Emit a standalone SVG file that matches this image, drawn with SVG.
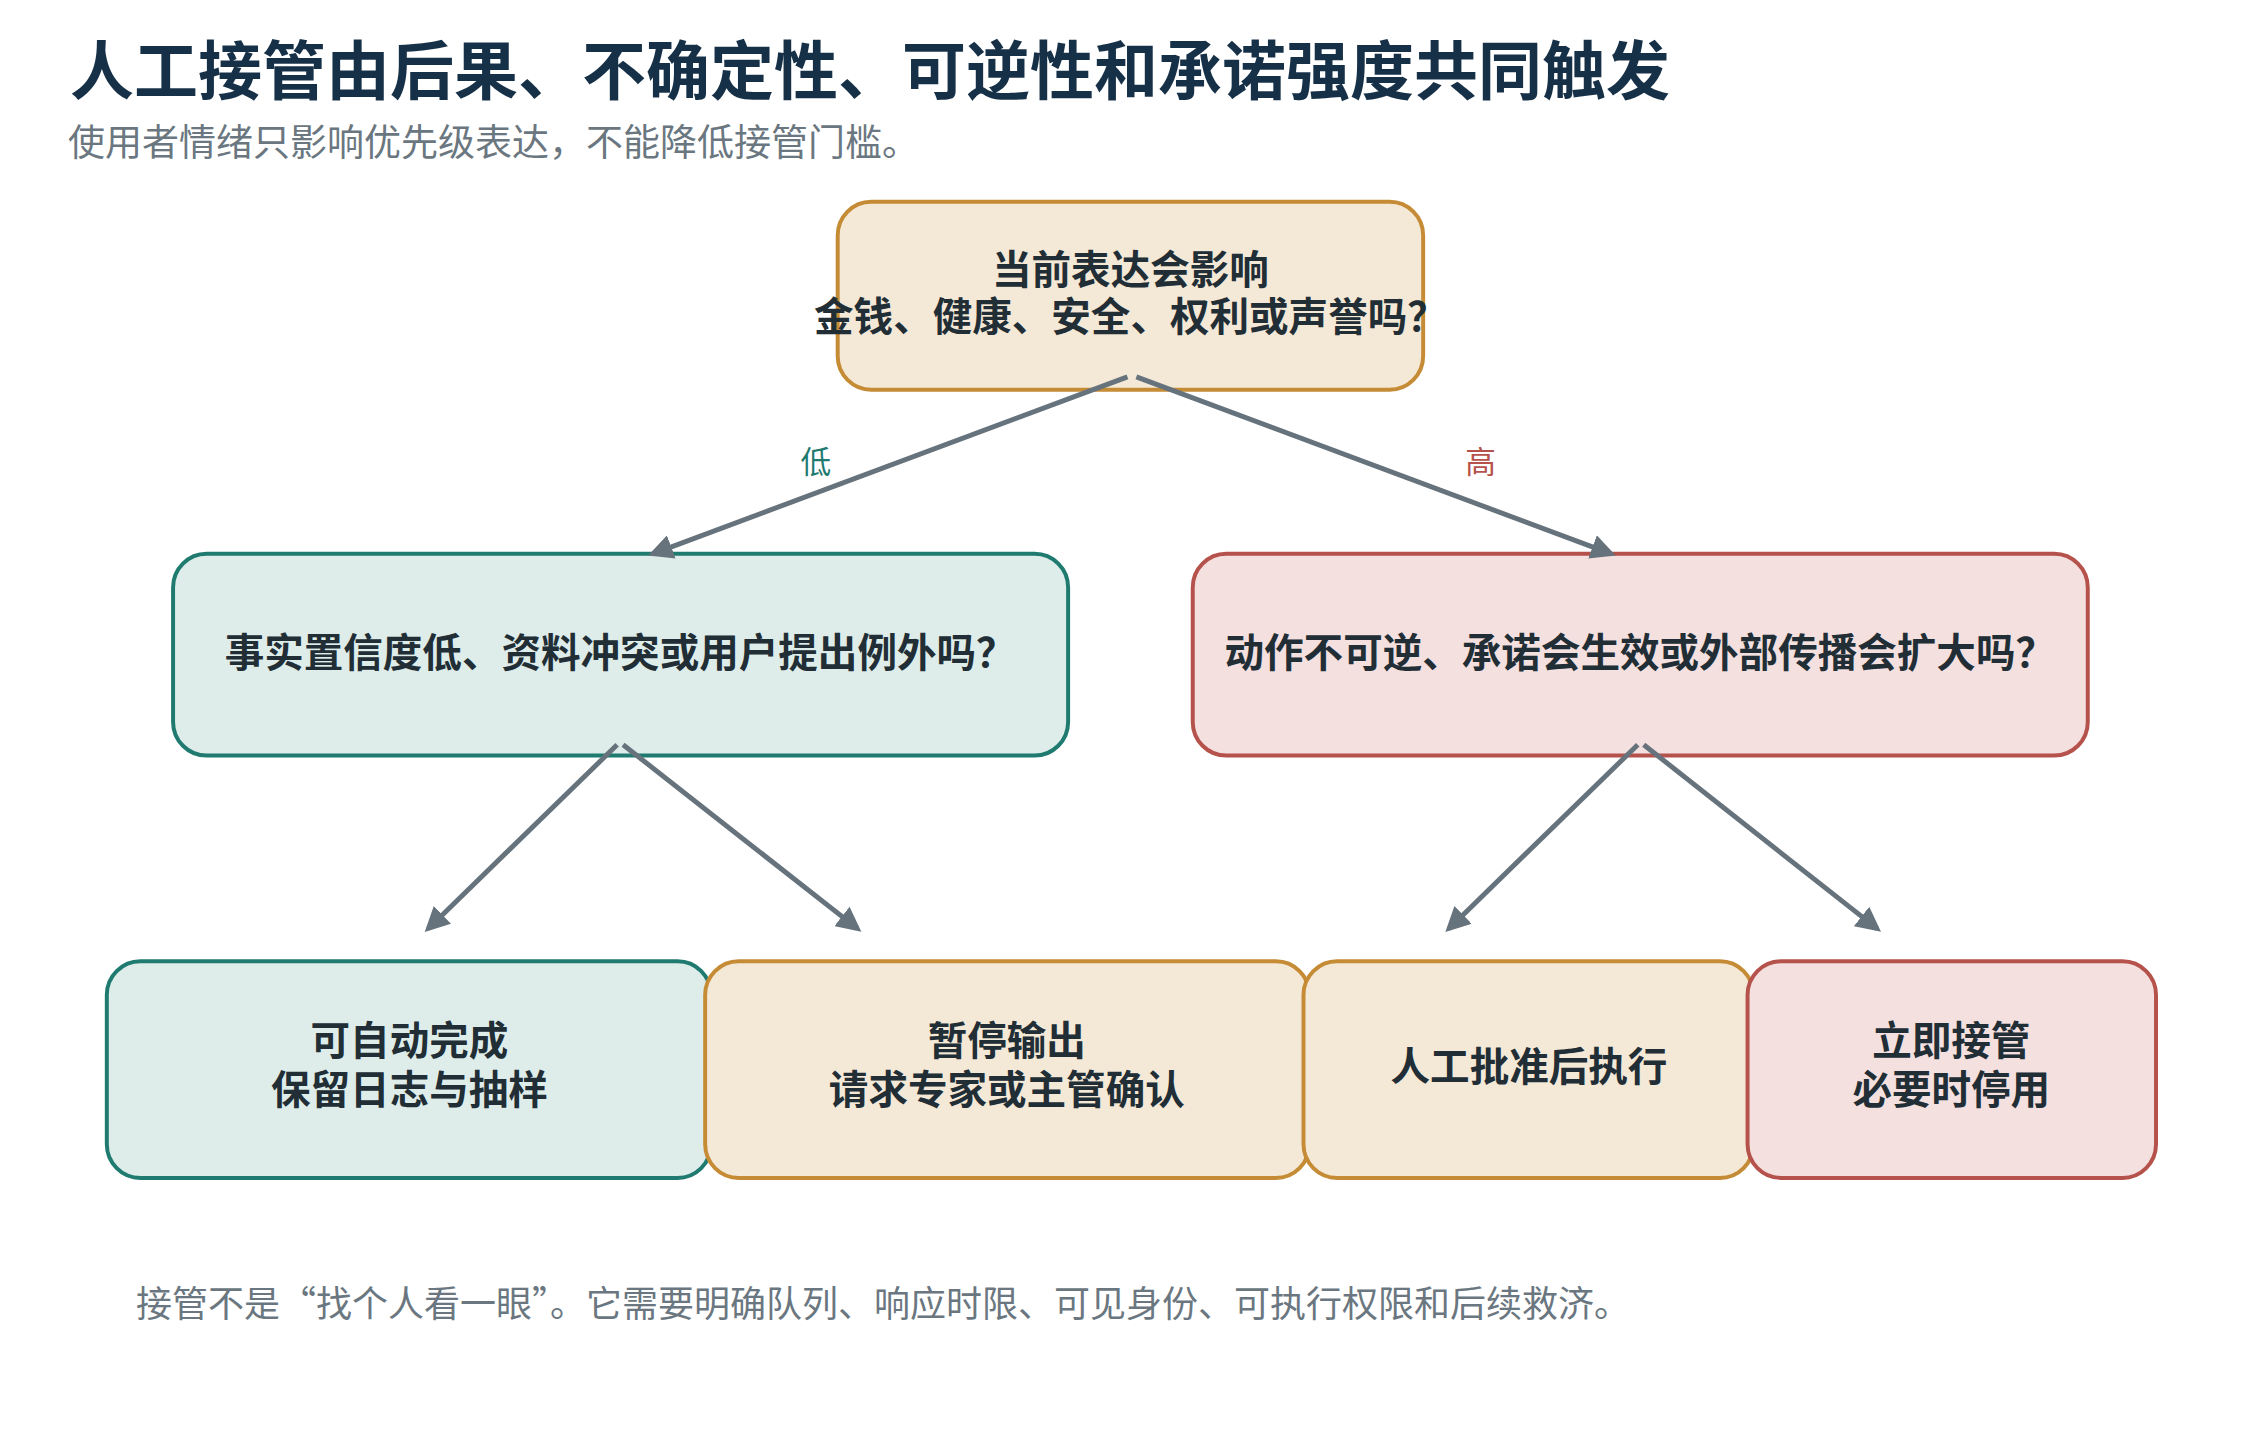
<svg xmlns="http://www.w3.org/2000/svg" width="2260" height="1450" viewBox="0 0 2260 1450">
<style>
text{font-family:"Noto Sans CJK SC","Noto Sans",sans-serif}
.t{font-size:64px;font-weight:700;fill:#163047}
.s{font-size:37px;fill:#6b7780}
.f{font-size:36px;fill:#6b7780}
.n{font-size:40px;font-weight:700;fill:#222e36;text-anchor:middle}
.teal{fill:#deedea;stroke:#1f7a70;stroke-width:4}
.gold{fill:#f4e8d7;stroke:#c58b35;stroke-width:4}
.red{fill:#f3e0df;stroke:#b5524b;stroke-width:4}
.e{stroke:#66737d;stroke-width:5;fill:none;marker-end:url(#a)}
.l{font-size:31px;text-anchor:middle}
</style>
<defs><marker id="a" viewBox="0 0 10 10" refX="8" refY="5" markerWidth="5" markerHeight="5" orient="auto"><path d="M0,0 L10,5 L0,10 z" fill="#66737d"/></marker></defs>
<rect width="2260" height="1450" fill="#fff"/>
<text class="t" x="70" y="94">人工接管由后果、不确定性、可逆性和承诺强度共同触发</text>
<text class="s" x="68" y="156">使用者情绪只影响优先级表达，不能降低接管门槛。</text>
<g transform="scale(0.989)">
<g id="top"><rect class="gold" x="847" y="204" width="592" height="190" rx="34"/>
<text class="n" x="1143" y="287">当前表达会影响</text><text class="n" x="1143" y="335">金钱、健康、安全、权利或声誉吗？</text></g>
<g id="facts"><rect class="teal" x="175" y="560" width="905" height="204" rx="34"/>
<text class="n" x="627" y="674">事实置信度低、资料冲突或用户提出例外吗？</text></g>
<g id="action"><rect class="red" x="1206" y="560" width="905" height="204" rx="34"/>
<text class="n" x="1658" y="674">动作不可逆、承诺会生效或外部传播会扩大吗？</text></g>
<g id="auto"><rect class="teal" x="108" y="972" width="611" height="219" rx="34"/>
<text class="n" x="414" y="1067">可自动完成</text><text class="n" x="414" y="1116">保留日志与抽样</text></g>
<g id="pause"><rect class="gold" x="713" y="972" width="611" height="219" rx="34"/>
<text class="n" x="1018" y="1067">暂停输出</text><text class="n" x="1018" y="1116">请求专家或主管确认</text></g>
<g id="approve"><rect class="gold" x="1318" y="972" width="455" height="219" rx="34"/>
<text class="n" x="1546" y="1093">人工批准后执行</text></g>
<g id="takeover"><rect class="red" x="1767" y="972" width="413" height="219" rx="34"/>
<text class="n" x="1973" y="1067">立即接管</text><text class="n" x="1973" y="1116">必要时停用</text></g>
<g id="edges">
<line class="e" x1="1140" y1="381" x2="660" y2="560"/>
<line class="e" x1="1149" y1="381" x2="1629" y2="560"/>
<line class="e" x1="624" y1="753" x2="433" y2="939"/>
<line class="e" x1="630" y1="753" x2="867" y2="939"/>
<line class="e" x1="1656" y1="753" x2="1465" y2="939"/>
<line class="e" x1="1662" y1="753" x2="1898" y2="939"/>
<text class="l" x="825" y="478" fill="#1f7a70">低</text>
<text class="l" x="1497" y="478" fill="#b5524b">高</text>
</g>
</g>
<text class="f" x="136" y="1317">接管不是“找个人看一眼”。它需要明确队列、响应时限、可见身份、可执行权限和后续救济。</text>
</svg>
